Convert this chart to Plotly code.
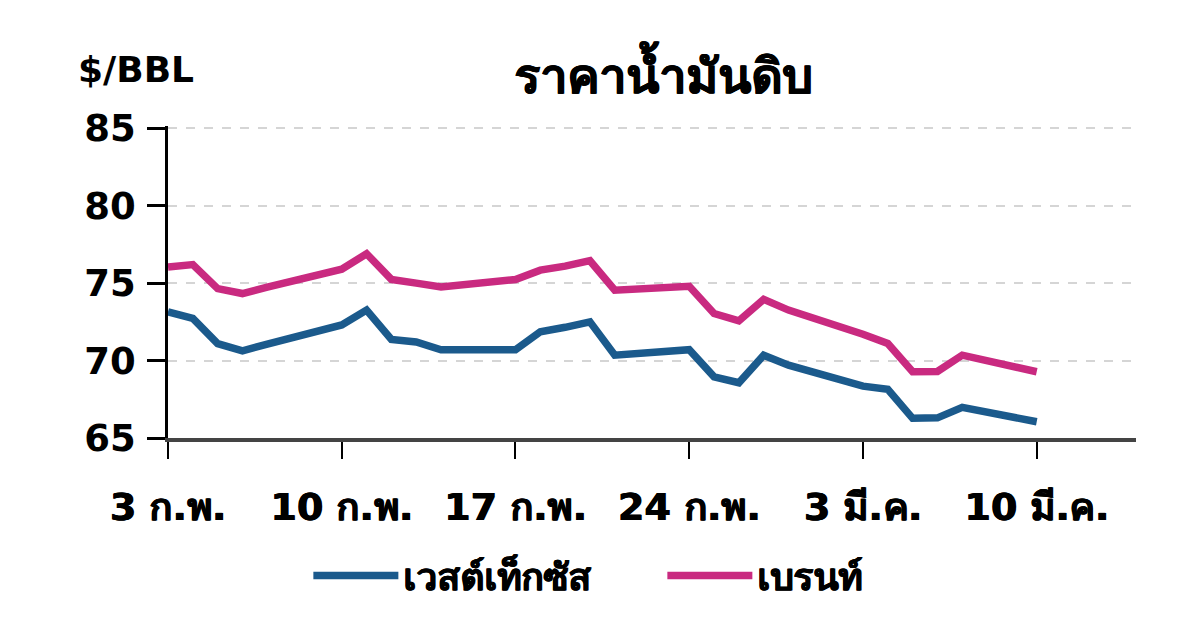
import plotly.graph_objects as go

dates = ["2025-02-03", "2025-02-04", "2025-02-05", "2025-02-06", "2025-02-07",
         "2025-02-10", "2025-02-11", "2025-02-12", "2025-02-13", "2025-02-14",
         "2025-02-17", "2025-02-18", "2025-02-19", "2025-02-20", "2025-02-21",
         "2025-02-24", "2025-02-25", "2025-02-26", "2025-02-27", "2025-02-28",
         "2025-03-03", "2025-03-04", "2025-03-05", "2025-03-06", "2025-03-07",
         "2025-03-10"]

wti = [73.15, 72.72, 71.10, 70.63, 71.06,
       72.30, 73.26, 71.37, 71.20, 70.70,
       70.70, 71.86, 72.15, 72.50, 70.35,
       70.70, 68.95, 68.57, 70.35, 69.70,
       68.35, 68.14, 66.27, 66.30, 66.98,
       66.05]

brent = [76.05, 76.20, 74.65, 74.33, 74.74,
         75.90, 76.90, 75.24, 75.00, 74.76,
         75.24, 75.84, 76.10, 76.45, 74.55,
         74.80, 73.04, 72.57, 73.95, 73.26,
         71.70, 71.10, 69.28, 69.30, 70.35,
         69.28]

tick_dates = ["2025-02-03", "2025-02-10", "2025-02-17", "2025-02-24", "2025-03-03", "2025-03-10"]
tick_labels = ["3 ก.พ.", "10 ก.พ.", "17 ก.พ.", "24 ก.พ.", "3 มี.ค.", "10 มี.ค."]
y_ticks = [65, 70, 75, 80, 85]

series_names = ["เวสต์เท็กซัส", "เบรนท์"]
colors = ["#1B5A8C", "#C92A80"]

FONT = "DejaVu Sans"
BOLDISH = "0.7px 0px 0px black, -0.3px 0px 0px black"

fig = go.Figure()
for name, vals, col in zip(series_names, [wti, brent], colors):
    fig.add_trace(go.Scatter(x=dates, y=vals, mode="lines", name=name,
                             line=dict(color=col, width=7.5)))

fig.update_layout(
    width=1192, height=627,
    paper_bgcolor="white", plot_bgcolor="white",
    margin=dict(l=160, r=64, t=118, b=197),
    font=dict(family=FONT, color="black"),
    showlegend=True,
    legend=dict(orientation="h", x=0.145, xanchor="left", y=-0.442, yanchor="middle",
                font=dict(size=37, family=FONT, weight="bold", shadow=BOLDISH),
                itemwidth=85, entrywidth=254),
    annotations=[
        dict(text="<b>ราคาน้ำมันดิบ</b>", xref="paper", yref="paper",
             x=0.511, y=1.172, xanchor="center", yanchor="middle",
             showarrow=False, font=dict(size=48, family=FONT, shadow=BOLDISH)),
        dict(text="<b>$/BBL</b>", xref="paper", yref="paper",
             x=-0.095, y=1.18, xanchor="left", yanchor="middle",
             showarrow=False, font=dict(size=36, family=FONT)),
    ],
)

fig.update_xaxes(
    type="date", range=["2025-02-03", "2025-03-14"],
    tickvals=tick_dates, ticktext=tick_labels,
    showgrid=False, zeroline=False,
    showline=True, linecolor="#444444", linewidth=3.5,
    ticks="outside", ticklen=17, tickwidth=2, tickcolor="black",
    ticklabelstandoff=16,
    tickfont=dict(size=38, family=FONT, weight="bold", shadow=BOLDISH),
)
fig.update_yaxes(
    range=[65, 85.15], tickvals=y_ticks,
    showgrid=True, gridcolor="#d5d5d5", gridwidth=1.5, griddash="dash",
    zeroline=False,
    showline=True, linecolor="black", linewidth=2.5,
    ticks="outside", ticklen=18, tickwidth=2.5, tickcolor="black",
    ticklabelstandoff=4,
    tickfont=dict(size=37, family=FONT, weight="bold"),
)

fig.write_html("out.html")
